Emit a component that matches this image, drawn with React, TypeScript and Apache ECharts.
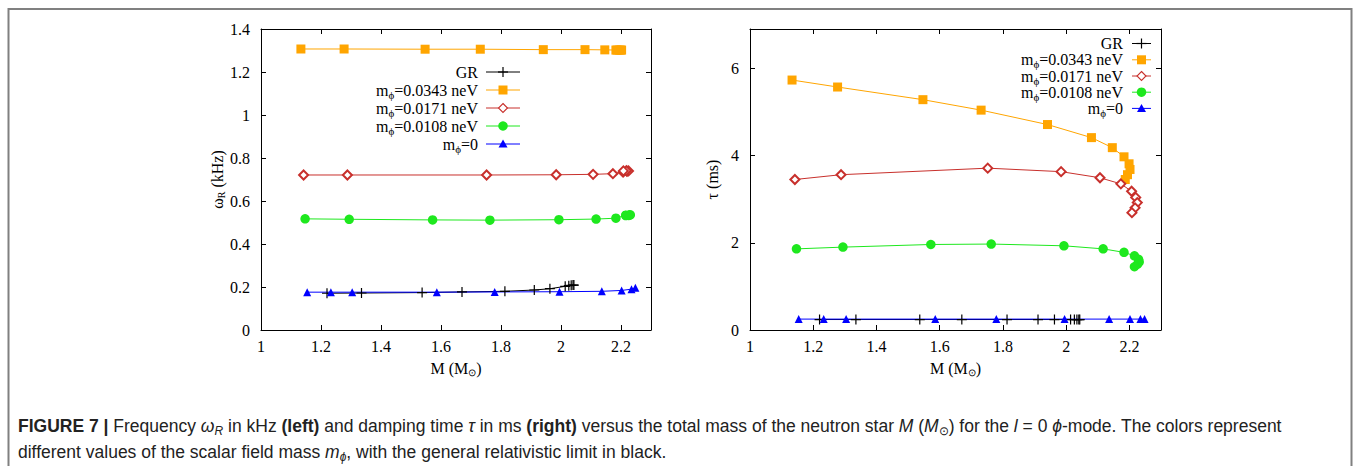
import React, { useEffect, useRef } from "react";
import * as echarts from "echarts";

// ---------- data ----------
// GR (black +)
const massGR = [1.22, 1.335, 1.537, 1.67, 1.813, 1.911, 1.963, 2.014, 2.026, 2.034, 2.04, 2.043];
const omegaGR = [0.171, 0.172, 0.174, 0.177, 0.18, 0.186, 0.192, 0.203, 0.206, 0.208, 0.209, 0.209];
const tauGR = [0.24, 0.24, 0.24, 0.24, 0.24, 0.24, 0.24, 0.24, 0.24, 0.24, 0.24, 0.24];

// m_phi = 0.0343 neV (orange squares)
const mass343 = [1.133, 1.277, 1.547, 1.731, 1.941, 2.08, 2.146, 2.183, 2.199, 2.202, 2.194, 2.187];
const omega343 = [1.307, 1.307, 1.306, 1.306, 1.304, 1.304, 1.303, 1.302, 1.302, 1.302, 1.302, 1.302];
const tau343 = [5.73, 5.57, 5.28, 5.04, 4.71, 4.41, 4.18, 3.97, 3.81, 3.68, 3.56, 3.45];

// m_phi = 0.0171 neV (red open diamonds)
const mass171 = [1.142, 1.288, 1.752, 1.984, 2.107, 2.173, 2.207, 2.22, 2.225, 2.218, 2.208];
const omega171 = [0.721, 0.721, 0.721, 0.722, 0.724, 0.727, 0.734, 0.738, 0.74, 0.741, 0.74];
const tau171 = [3.45, 3.56, 3.71, 3.63, 3.49, 3.35, 3.18, 3.04, 2.92, 2.8, 2.69];

// m_phi = 0.0108 neV (green circles)
const mass108 = [1.147, 1.294, 1.572, 1.763, 1.993, 2.117, 2.183, 2.216, 2.229, 2.231, 2.226, 2.216];
const omega108 = [0.517, 0.515, 0.512, 0.511, 0.513, 0.516, 0.52, 0.534, 0.536, 0.535, 0.533, 0.532];
const tau108 = [1.86, 1.9, 1.96, 1.97, 1.93, 1.86, 1.78, 1.7, 1.62, 1.56, 1.51, 1.45];

// m_phi = 0 (blue triangles)
const mass0 = [1.154, 1.233, 1.304, 1.586, 1.779, 1.995, 2.136, 2.202, 2.235, 2.248];
const omega0 = [0.176, 0.176, 0.176, 0.176, 0.177, 0.178, 0.18, 0.184, 0.19, 0.196];
const tau0 = [0.25, 0.25, 0.25, 0.25, 0.25, 0.25, 0.25, 0.25, 0.25, 0.25];

// axes
const xMin = 1, xMax = 2.3, xStep = 0.2;
const omegaMin = 0, omegaMax = 1.4, omegaStep = 0.2;
const tauMin = 0, tauMax = 6.9, tauStep = 2;

const legendLabels = [
  "{a|GR}",
  "{a|m}{s|ϕ}{a|=0.0343 neV}",
  "{a|m}{s|ϕ}{a|=0.0171 neV}",
  "{a|m}{s|ϕ}{a|=0.0108 neV}",
  "{a|m}{s|ϕ}{a|=0}",
];

// ---------- styling ----------
const SERIF = "'Liberation Serif', 'Times New Roman', serif";
const NARROW = "'Liberation Sans Narrow', 'Arial Narrow', 'Liberation Sans', sans-serif";
const W = 1354, H = 466;

const PLUS = "path://M0,5L10,5M5,0L5,10";

type Def = {
  mass: number[]; omega: number[]; tau: number[];
  color: string; kind: string; symbol: string; size: number;
};

const defs: Def[] = [
  { mass: massGR, omega: omegaGR, tau: tauGR, color: "#000000", kind: "plus", symbol: PLUS, size: 10 },
  { mass: mass343, omega: omega343, tau: tau343, color: "#FFA500", kind: "square", symbol: "rect", size: 9 },
  { mass: mass171, omega: omega171, tau: tau171, color: "#C8302C", kind: "diamond", symbol: "emptyDiamond", size: 9 },
  { mass: mass108, omega: omega108, tau: tau108, color: "#1EE81E", kind: "circle", symbol: "circle", size: 9.5 },
  { mass: mass0, omega: omega0, tau: tau0, color: "#0000FF", kind: "triangle", symbol: "triangle", size: 8 },
];

const zip = (xs: number[], ys: number[]) => xs.map((x, i) => [x, ys[i]]);

const richLegend = (fs: number) => ({
  a: { fontFamily: SERIF, fontSize: fs, color: "#000" },
  s: { fontFamily: SERIF, fontSize: Math.round(fs * 0.66), color: "#000", padding: [9, 0, 0, 0] },
});

function mkSeries(d: Def, xi: number, yi: number, ys: number[]) {
  let itemStyle: any;
  if (d.kind === "plus") itemStyle = { color: d.color, borderColor: d.color, borderWidth: 1.2 };
  else if (d.kind === "diamond") itemStyle = { color: d.color, borderColor: d.color, borderWidth: 1.1 };
  else itemStyle = { color: d.color, borderWidth: 0 };
  return {
    type: "line",
    xAxisIndex: xi,
    yAxisIndex: yi,
    data: zip(d.mass, ys),
    symbol: d.symbol,
    symbolSize: d.size,
    showSymbol: true,
    showAllSymbol: true,
    silent: true,
    lineStyle: { color: d.color, width: 1 },
    itemStyle,
  };
}

function marker(kind: string, color: string, x: number, y: number): any[] {
  switch (kind) {
    case "plus":
      return [
        { type: "line", shape: { x1: x - 5, y1: y, x2: x + 5, y2: y }, style: { stroke: color, lineWidth: 1.2 } },
        { type: "line", shape: { x1: x, y1: y - 5, x2: x, y2: y + 5 }, style: { stroke: color, lineWidth: 1.2 } },
      ];
    case "square":
      return [{ type: "rect", shape: { x: x - 4.5, y: y - 4.5, width: 9, height: 9 }, style: { fill: color } }];
    case "diamond":
      return [{
        type: "polygon",
        shape: { points: [[x, y - 4.5], [x + 4.5, y], [x, y + 4.5], [x - 4.5, y]] },
        style: { fill: "#fff", stroke: color, lineWidth: 1.1 },
      }];
    case "circle":
      return [{ type: "circle", shape: { cx: x, cy: y, r: 4.75 }, style: { fill: color } }];
    default:
      return [{
        type: "polygon",
        shape: { points: [[x, y - 4.5], [x + 4.5, y + 3.5], [x - 4.5, y + 3.5]] },
        style: { fill: color },
      }];
  }
}

function legend(xr: number, lx0: number, lx1: number, ys: number[], fs: number): any[] {
  const out: any[] = [];
  defs.forEach((d, i) => {
    const y = ys[i];
    out.push({
      type: "text",
      x: xr,
      y,
      style: {
        text: legendLabels[i],
        rich: richLegend(fs),
        fontFamily: SERIF,
        fontSize: fs,
        fill: "#000",
        align: "right",
        verticalAlign: "middle",
        textAlign: "right",
        textVerticalAlign: "middle",
      },
    });
    out.push({ type: "line", shape: { x1: lx0, y1: y, x2: lx1, y2: y }, style: { stroke: d.color, lineWidth: 1 } });
    out.push(...marker(d.kind, d.color, (lx0 + lx1) / 2, y));
  });
  return out;
}

const axisBase = {
  type: "value",
  axisLine: { show: true, onZero: false, lineStyle: { color: "#000", width: 1 } },
  axisTick: { show: true, inside: true, length: 5, lineStyle: { color: "#000", width: 1 } },
  splitLine: { show: false },
};

const tickLabel = (showMax: boolean, margin: number) => ({
  show: true,
  fontFamily: SERIF,
  fontSize: 16,
  color: "#000",
  margin,
  showMaxLabel: showMax,
});

const nameRich = {
  a: { fontFamily: SERIF, fontSize: 16, color: "#000" },
  s: { fontFamily: SERIF, fontSize: 10, color: "#000", padding: [8, 0, 0, 0] },
};

function xAxes(gridIndex: number) {
  return [
    {
      ...axisBase, gridIndex, position: "bottom", min: xMin, max: xMax, interval: xStep,
      axisLabel: tickLabel(false, 8),
      name: "{a|M (M}{s|⊙}{a|)}",
      nameLocation: "middle",
      nameGap: 29,
      nameTextStyle: { rich: nameRich, fontFamily: SERIF, fontSize: 16, color: "#000" },
    },
    {
      ...axisBase, gridIndex, position: "top", min: xMin, max: xMax, interval: xStep,
      axisLabel: { show: false },
    },
  ];
}

function yAxes(gridIndex: number, min: number, max: number, step: number, name: string, showMax: boolean) {
  return [
    {
      ...axisBase, gridIndex, position: "left", min, max, interval: step,
      axisLabel: tickLabel(showMax, 11),
      name,
      nameLocation: "middle",
      nameGap: 30,
      nameRotate: 90,
      nameTextStyle: { rich: nameRich, fontFamily: SERIF, fontSize: 16, color: "#000" },
    },
    {
      ...axisBase, gridIndex, position: "right", min, max, interval: step,
      axisLabel: { show: false },
    },
  ];
}

const CF = 17.5;
const capRich = {
  n: { fontFamily: NARROW, fontSize: CF, color: "#222" },
  b: { fontFamily: NARROW, fontSize: CF, fontWeight: "bold", color: "#111" },
  i: { fontFamily: NARROW, fontSize: CF, fontStyle: "italic", color: "#222" },
  is: { fontFamily: NARROW, fontSize: 12, fontStyle: "italic", color: "#222", padding: [9, 0, 0, 0] },
  s: { fontFamily: NARROW, fontSize: 12, color: "#222", padding: [9, 0, 0, 0] },
};

const caption1 =
  "{b|FIGURE 7 |}{n| Frequency }{i|ω}{is|R}{n| in kHz }{b|(left)}{n| and damping time }{i|τ}{n| in ms }{b|(right)}" +
  "{n| versus the total mass of the neutron star }{i|M}{n| (}{i|M}{s|⊙}{n|) for the }{i|l}{n| = 0 }{i|ϕ}{n|-mode. The colors represent}";
const caption2 =
  "{n|different values of the scalar field mass }{i|m}{is|ϕ}{n|, with the general relativistic limit in black.}";

function buildOption(): any {
  const series: any[] = [];
  defs.forEach((d) => series.push(mkSeries(d, 0, 0, d.omega)));
  defs.forEach((d) => series.push(mkSeries(d, 2, 2, d.tau)));

  const graphic: any[] = [
    {
      type: "polyline",
      shape: { points: [[8.5, H], [8.5, 9], [1351.5, 9], [1351.5, H]] },
      style: { stroke: "#808080", lineWidth: 2, fill: "none" },
    },
    ...legend(478, 486, 520, [72, 90, 108, 126, 144], 16),
    ...legend(1123, 1132, 1151, [43.5, 59.8, 76, 92.2, 108.4], 16),
    {
      type: "text", x: 18, y: 426,
      style: { text: caption1, rich: capRich, fontFamily: NARROW, fontSize: CF, fill: "#222",
        align: "left", verticalAlign: "middle", textAlign: "left", textVerticalAlign: "middle" },
    },
    {
      type: "text", x: 18, y: 452,
      style: { text: caption2, rich: capRich, fontFamily: NARROW, fontSize: CF, fill: "#222",
        align: "left", verticalAlign: "middle", textAlign: "left", textVerticalAlign: "middle" },
    },
  ];

  return {
    animation: false,
    backgroundColor: "#ffffff",
    grid: [
      { left: 261, right: W - 651, top: 29, bottom: H - 330 },
      { left: 750, right: W - 1161, top: 29, bottom: H - 330 },
    ],
    xAxis: [...xAxes(0), ...xAxes(1)],
    yAxis: [
      ...yAxes(0, omegaMin, omegaMax, omegaStep, "{a|ω}{s|R}{a| (kHz)}", true),
      ...yAxes(1, tauMin, tauMax, tauStep, "{a|τ (ms)}", false),
    ],
    series,
    graphic,
  };
}

export default function App() {
  const ref = useRef<HTMLDivElement>(null);
  useEffect(() => {
    const chart = echarts.init(ref.current!, null, { renderer: "svg" });
    chart.setOption(buildOption());
    return () => chart.dispose();
  }, []);
  return (
    <div
      ref={ref}
      style={{ position: "fixed", left: 0, top: 0, width: W, height: H, background: "#fff" }}
    />
  );
}
